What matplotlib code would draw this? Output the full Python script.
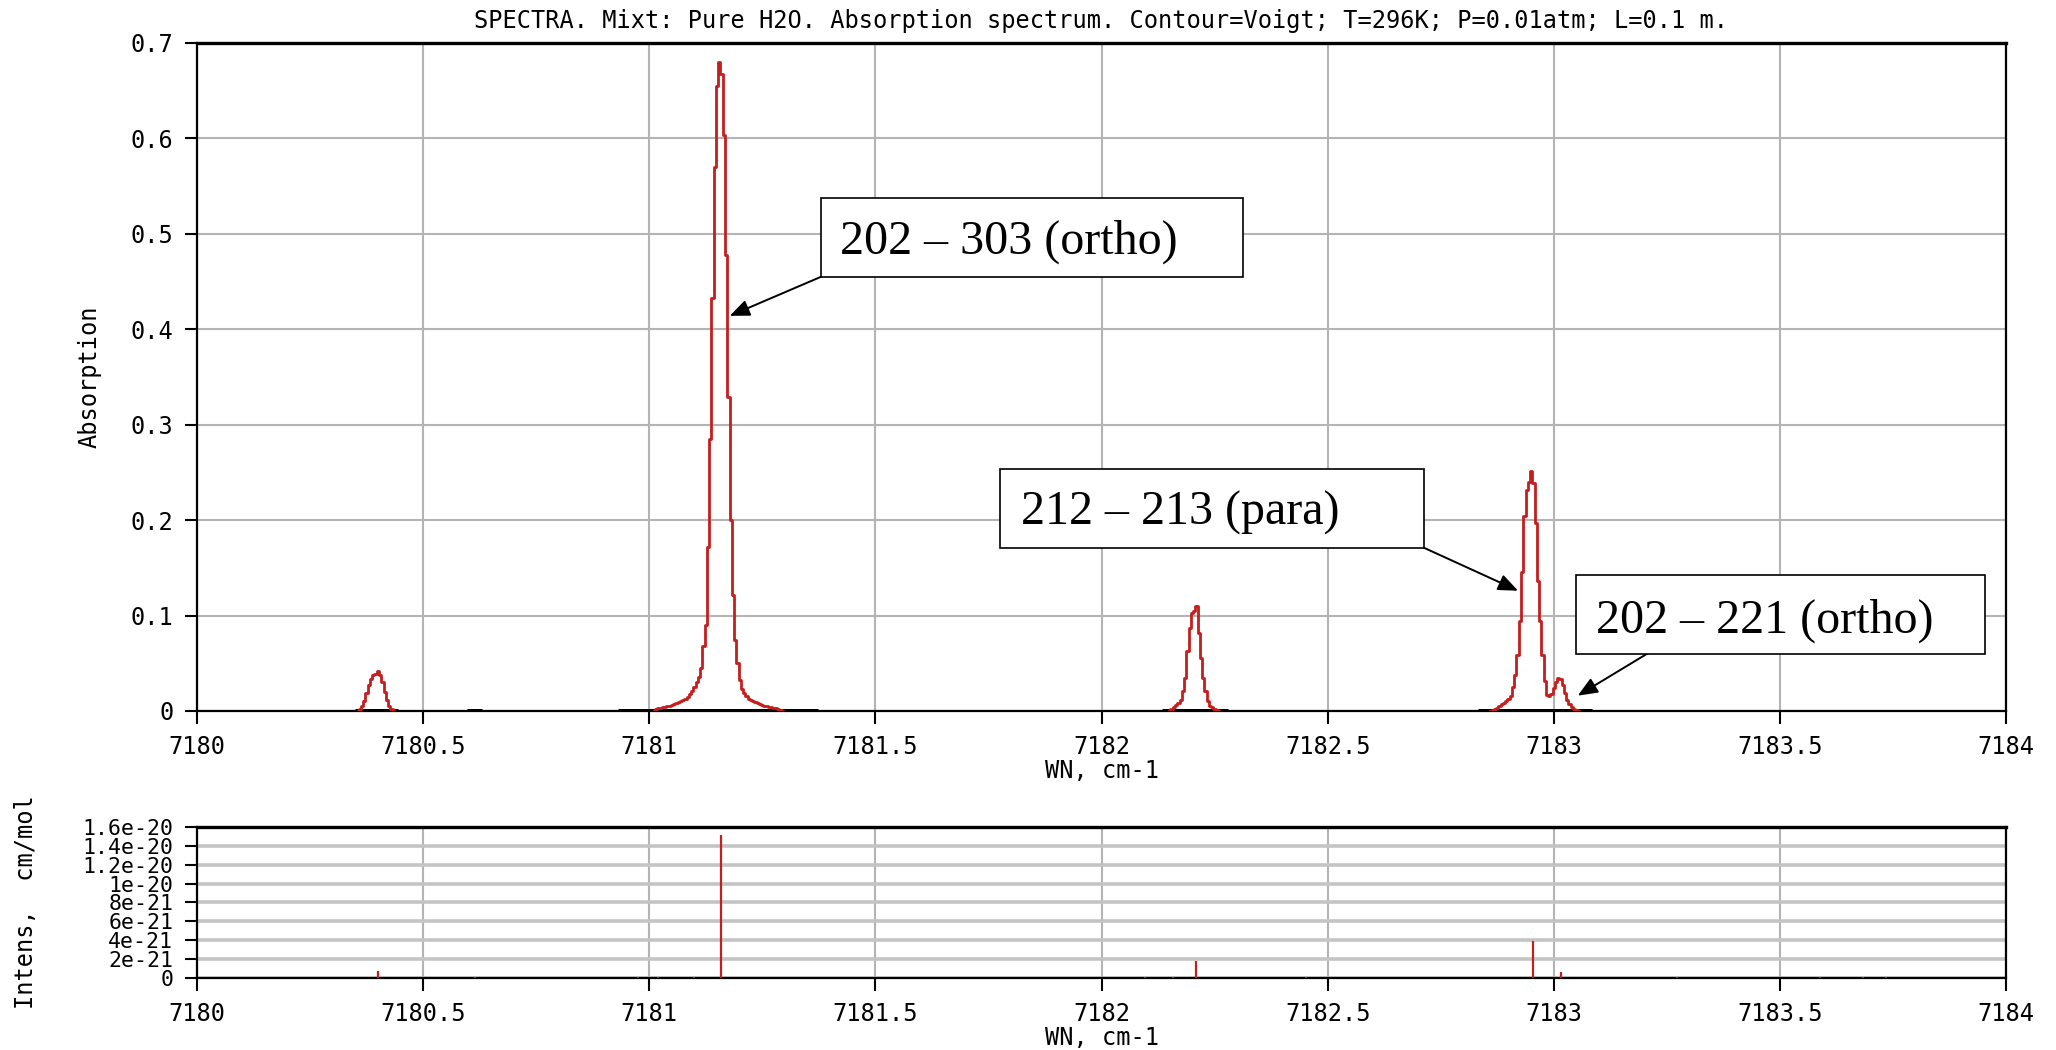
import matplotlib
matplotlib.use("Agg")
import matplotlib.pyplot as plt
import numpy as np
from matplotlib.patches import Rectangle

# Spectrum grid step, cm-1
STEP = 0.005

# Voigt-contour absorption, sampled on the 0.005 cm-1 grid (start wavenumber, values)
peak_7180_40_start = 7180.355
peak_7180_40 = [0.000, 0.002, 0.005, 0.010, 0.019, 0.027, 0.033, 0.038, 0.039,
                0.042, 0.038, 0.030, 0.020, 0.012, 0.005, 0.002, 0.000]

peak_7181_15_start = 7181.010
peak_7181_15 = [0.000, 0.002, 0.003, 0.003, 0.004, 0.004, 0.005, 0.005, 0.006, 0.007,
                0.008, 0.009, 0.010, 0.011, 0.013, 0.015, 0.018, 0.021, 0.025, 0.030,
                0.036, 0.045, 0.068, 0.090, 0.172, 0.285, 0.433, 0.570, 0.655, 0.680,
                0.667, 0.604, 0.478, 0.329, 0.200, 0.122, 0.074, 0.050, 0.032, 0.023,
                0.019, 0.016, 0.013, 0.011, 0.010, 0.009, 0.008, 0.007, 0.006, 0.005,
                0.005, 0.004, 0.004, 0.003, 0.003, 0.002, 0.001, 0.000]

peak_7182_21_start = 7182.150
peak_7182_21 = [0.000, 0.002, 0.004, 0.006, 0.008, 0.012, 0.021, 0.035, 0.063, 0.087,
                0.103, 0.105, 0.110, 0.082, 0.056, 0.035, 0.021, 0.010, 0.005, 0.004,
                0.002, 0.001, 0.000]

peak_7182_95_start = 7182.860
peak_7182_95 = [0.000, 0.001, 0.002, 0.003, 0.005, 0.007, 0.008, 0.010, 0.013, 0.016,
                0.025, 0.038, 0.059, 0.094, 0.146, 0.204, 0.232, 0.240, 0.251, 0.239,
                0.197, 0.136, 0.094, 0.059, 0.031, 0.017, 0.016, 0.018, 0.024, 0.030,
                0.035, 0.033, 0.027, 0.019, 0.012, 0.007, 0.004, 0.002, 0.001, 0.000]

peaks = [(peak_7180_40_start, peak_7180_40),
         (peak_7181_15_start, peak_7181_15),
         (peak_7182_21_start, peak_7182_21),
         (peak_7182_95_start, peak_7182_95)]

# calculation windows around lines (drawn on the zero level)
window_lo = [7180.349, 7180.596, 7180.930, 7182.133, 7182.833]
window_hi = [7180.445, 7180.630, 7181.374, 7182.280, 7183.084]

# line list: positions (cm-1) and intensities (cm/mol)
line_wn = [7180.400, 7180.615, 7180.975, 7181.020, 7181.099, 7181.158, 7182.096,
           7182.158, 7182.210, 7182.453, 7182.953, 7183.017, 7183.272, 7183.588,
           7183.684, 7183.735]
line_s = [7e-22, 1.5e-22, 1.5e-22, 1.5e-22, 1.5e-22, 1.515e-20, 1.5e-22,
          1.5e-22, 1.76e-21, 1.5e-22, 3.88e-21, 6e-22, 1.5e-22, 1.5e-22,
          1.5e-22, 1.5e-22]

wn_ticks = [7180, 7180.5, 7181, 7181.5, 7182, 7182.5, 7183, 7183.5, 7184]
wn_labels = ["7180", "7180.5", "7181", "7181.5", "7182", "7182.5", "7183", "7183.5", "7184"]
abs_ticks = [0, 0.1, 0.2, 0.3, 0.4, 0.5, 0.6, 0.7]
abs_labels = ["0", "0.1", "0.2", "0.3", "0.4", "0.5", "0.6", "0.7"]
int_ticks = [0, 2e-21, 4e-21, 6e-21, 8e-21, 1e-20, 1.2e-20, 1.4e-20, 1.6e-20]
int_labels = ["0", "2e-21", "4e-21", "6e-21", "8e-21", "1e-20", "1.2e-20", "1.4e-20", "1.6e-20"]

RED = "#c41e1e"
GRID = "#b4b4b4"
MONO = "DejaVu Sans Mono"
FS = 17

plt.rcParams["font.family"] = MONO
plt.rcParams["font.size"] = FS

fig = plt.figure(figsize=(20.56, 10.5), dpi=100)
fig.patch.set_facecolor("white")
ax1 = fig.add_axes([0.0958, 0.3229, 0.8799, 0.6362])
ax2 = fig.add_axes([0.0958, 0.0686, 0.8799, 0.1438])


def style_axes(ax, yticks, ylabels, hgrid_lw, ysize=FS):
    ax.set_xlim(7180, 7184)
    ax.set_xticks(wn_ticks, wn_labels)
    ax.set_yticks(yticks, ylabels)
    ax.set_ylim(yticks[0], yticks[-1])
    ax.xaxis.grid(True, color=GRID, lw=1.5)
    ax.yaxis.grid(True, color=GRID, lw=hgrid_lw)
    ax.set_axisbelow(True)
    for side in ["left", "right", "bottom", "top"]:
        ax.spines[side].set_linewidth(1.6)
        ax.spines[side].set_color("black")
    ax.spines["top"].set_linewidth(2.4)
    ax.tick_params(direction="out", length=9, width=1.5, pad=8,
                   labelsize=FS, top=False, right=False)
    ax.tick_params(axis="y", labelsize=ysize)
    ax.set_xlabel("WN, cm-1", fontsize=FS, labelpad=0)


# --- absorption spectrum ---
style_axes(ax1, abs_ticks, abs_labels, 1.5)
ax1.axhline(0, color=RED, lw=1.8, zorder=2)
ax1.hlines(np.zeros(len(window_lo)), window_lo, window_hi, color="black", lw=3.6, zorder=3)
for start, vals in peaks:
    wn = np.round(start + STEP * np.arange(len(vals)), 3)
    ax1.plot(wn, vals, color=RED, lw=2.0, drawstyle="steps-mid", zorder=4)

ax1.set_ylabel("Absorption", fontsize=FS)
ax1.yaxis.set_label_coords(-0.0525, 0.5)
fig.text(0.5355, 1 - 21 / 1050,
         "SPECTRA. Mixt: Pure H2O. Absorption spectrum. Contour=Voigt; T=296K; P=0.01atm; L=0.1 m.",
         ha="center", va="center", fontsize=FS)

# --- transition labels with arrows ---
SERIF = "Liberation Serif"
boxes = [
    ((0.3449, 0.6497), 0.2333, 0.1183, (0.3555, 0.7016), "202 – 303 (ortho)",
     (7181.380, 0.455), (7181.178, 0.414)),
    ((0.4439, 0.2440), 0.2344, 0.1183, (0.4555, 0.2959), "212 – 213 (para)",
     (7182.713, 0.171), (7182.921, 0.126)),
    ((0.7623, 0.0853), 0.2261, 0.1183, (0.7734, 0.1357), "202 – 221 (ortho)",
     (7183.217, 0.063), (7183.053, 0.016)),
]
for (x0, y0), w, h, (tx, ty), label, tail, tip in boxes:
    ax1.add_patch(Rectangle((x0, y0), w, h, transform=ax1.transAxes,
                            facecolor="white", edgecolor="black", lw=1.2, zorder=6))
    ax1.text(tx, ty, label, transform=ax1.transAxes, ha="left", va="center",
             fontsize=34.6, family=SERIF, zorder=7)
    ax1.annotate("", xy=tip, xytext=tail, xycoords="data", textcoords="data",
                 arrowprops=dict(arrowstyle="-|>,head_length=0.6,head_width=0.25",
                                 color="black", lw=1.4, mutation_scale=20,
                                 shrinkA=0, shrinkB=0), zorder=5)

# --- line intensities ---
style_axes(ax2, int_ticks, int_labels, 2.6, ysize=15.5)
ax2.yaxis.grid(True, color="#c4c4c4", lw=2.6)
ax2.vlines(line_wn, 0, line_s, color=RED, lw=1.6, zorder=3)
ax2.set_ylabel("Intens,  cm/mol", fontsize=FS)
ax2.yaxis.set_label_coords(-0.0879, 0.5)

fig.savefig("out.png", dpi=100, facecolor="white")
